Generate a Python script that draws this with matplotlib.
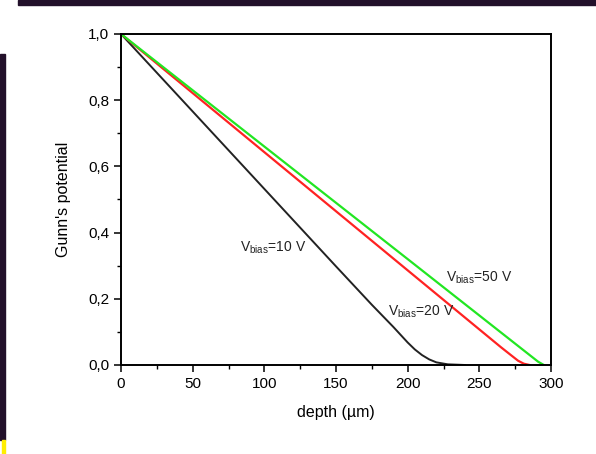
import matplotlib.pyplot as plt
from matplotlib.patches import Rectangle
from matplotlib.ticker import MultipleLocator, FuncFormatter

plt.rcParams['font.family'] = ['Liberation Sans', 'DejaVu Sans']
plt.rcParams['mathtext.fontset'] = 'custom'
plt.rcParams['mathtext.rm'] = 'Liberation Sans'

# Gunn's potential vs depth for three bias voltages
depth_10 = [0, 50, 100, 150, 175, 190, 200, 205, 210, 215, 220, 228, 240]
pot_10 = [1.0, 0.766, 0.532, 0.298, 0.182, 0.115, 0.068, 0.047, 0.030, 0.017, 0.008, 0.002, 0.0]

depth_20 = [0, 100, 200, 265, 272, 277, 281, 285]
pot_20 = [1.0, 0.643, 0.286, 0.054, 0.030, 0.013, 0.004, 0.0]

depth_50 = [0, 100, 200, 286, 291, 295]
pot_50 = [1.0, 0.66, 0.32, 0.027, 0.01, 0.0]

labels = ['10 V', '20 V', '50 V']

fig = plt.figure(figsize=(5.96, 4.54), dpi=100)
ax = fig.add_axes([121/596, 1-365/454, 430/596, 331/454])

ax.plot(depth_10, pot_10, color='#222222', lw=1.4)
ax.plot(depth_20, pot_20, color='#ff2222', lw=1.6)
ax.plot(depth_50, pot_50, color='#22e622', lw=1.6)

ax.set_xlim(0, 300)
ax.set_ylim(0, 1.0)
ax.xaxis.set_major_locator(MultipleLocator(50))
ax.xaxis.set_minor_locator(MultipleLocator(25))
ax.yaxis.set_major_locator(MultipleLocator(0.2))
ax.yaxis.set_minor_locator(MultipleLocator(0.1))
ax.yaxis.set_major_formatter(FuncFormatter(lambda v, p: f'{v:.1f}'.replace('.', ',')))
ax.tick_params(which='major', direction='out', length=5, width=1.1, labelsize=11)
ax.tick_params(which='minor', direction='out', length=3, width=1.0)
for s in ax.spines.values():
    s.set_linewidth(1.4)

ax.set_xlabel('depth (µm)', fontsize=11.5, labelpad=10)
ax.set_ylabel("Gunn's potential", fontsize=11.5, labelpad=12)

ax.text(83, 0.353, r'$\mathregular{V_{bias}}$=' + labels[0], fontsize=10, va='center', color='#222222')
ax.text(186, 0.16, r'$\mathregular{V_{bias}}$=' + labels[1], fontsize=10, va='center', color='#222222')
ax.text(227, 0.263, r'$\mathregular{V_{bias}}$=' + labels[2], fontsize=10, va='center', color='#222222')

# dark frame pieces around the slide
dark = '#22102a'
fig.patches.append(Rectangle((18/596, 1-5/454), 1, 5/454, transform=fig.transFigure, color=dark))
fig.patches.append(Rectangle((0, 14/454), 5/596, 386/454, transform=fig.transFigure, color=dark))
fig.patches.append(Rectangle((2/596, 0), 3/596, 14/454, transform=fig.transFigure, color='#ffee00'))

fig.savefig('out.png', dpi=100)
